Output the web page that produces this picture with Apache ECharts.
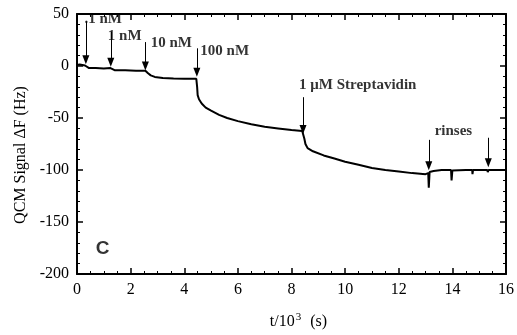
<!DOCTYPE html>
<html>
<head>
<meta charset="utf-8">
<script src="https://cdn.jsdelivr.net/npm/echarts@6/dist/echarts.min.js"></script>
<style>
  html, body { margin: 0; padding: 0; background: #fff; }
  #chart { width: 517px; height: 335px; }
</style>
</head>
<body>
<div id="chart"></div>
<script>
// QCM trace: [t / 10^3 s, dF Hz]
const trace = [
  [0, 1], [0.1, 1.5], [0.2, 1], [0.3, 0.5], [0.35, -1], [0.45, -2], [0.7, -2], [1.0, -2.3],
  [1.25, -2], [1.3, -3], [1.4, -4], [1.8, -4.2], [2.2, -4.5], [2.55, -4.5], [2.65, -7],
  [2.75, -9], [2.9, -10.5], [3.2, -11.5], [3.6, -12], [4.0, -12.3], [4.45, -12.3],
  [4.48, -20], [4.5, -28], [4.55, -32], [4.65, -36], [4.8, -40], [5.0, -43], [5.3, -47],
  [5.6, -50], [6.0, -53], [6.5, -56], [7.0, -58.5], [7.5, -60], [8.0, -61.5], [8.4, -62.5],
  [8.45, -64], [8.48, -70], [8.52, -75], [8.6, -79], [8.8, -82], [9.2, -86], [9.6, -89],
  [10.0, -92], [10.5, -95], [11.0, -98], [11.5, -100], [12.0, -101.5], [12.5, -103],
  [13.0, -104], [13.1, -103], [13.12, -117], [13.15, -102], [13.3, -101], [13.6, -100],
  [13.95, -100], [13.97, -110], [14.0, -100.5], [14.5, -100], [14.74, -100], [14.75, -104],
  [14.77, -100], [15.3, -100], [15.32, -102], [15.35, -100], [16, -100],
];

// injection arrows: [t, y from, y to]
const arrows = [
  [0.33, 43, 6],
  [1.26, 33, 3.5],
  [2.55, 23, 0],
  [4.47, 17, -6],
  [8.43, -30, -61],
  [13.12, -71, -96],
  [15.34, -69, -93],
];

// annotation texts: [t, y, text]
const notes = [
  [0.28, 45, '.1 nM'],
  [1.15, 29, '1 nM'],
  [2.75, 22, '10 nM'],
  [4.6, 14, '100 nM'],
  [8.28, -18, '1 μM Streptavidin'],
  [13.34, -63, 'rinses'],
];
const panelTag = [[0.7, -176, 'C']];

const serif = '"Liberation Serif", "DejaVu Serif", serif';

const chart = echarts.init(document.getElementById('chart'));

// fresh objects for every axis
function frameAxis(extra, split) {
  return Object.assign({
    type: 'value',
    axisLine: { show: true, onZero: false, lineStyle: { color: '#000', width: 2 } },
    axisTick: { show: true, inside: true, length: 6, lineStyle: { color: '#000', width: 1.5 } },
    minorTick: { show: true, splitNumber: split, length: 3, lineStyle: { color: '#000', width: 1 } },
    splitLine: { show: false },
  }, extra);
}

chart.setOption({
  animation: false,
  grid: { left: 77, right: 7, top: 14, bottom: 57 },
  xAxis: [frameAxis({
    min: 0, max: 16, interval: 2,
    axisLabel: { color: '#000', fontFamily: serif, fontSize: 16 },
    name: '{a|t/10}{s|3}{a|  (s)}',
    nameLocation: 'middle',
    nameGap: 38,
    nameTextStyle: {
      padding: [0, 0, 0, 14],
      rich: {
        a: { fontFamily: serif, fontSize: 16, color: '#000' },
        s: { fontFamily: serif, fontSize: 11, color: '#000', verticalAlign: 'top', padding: [0, 1, 9, 1] },
      },
    },
  }, 4), frameAxis({
    position: 'top', min: 0, max: 16, interval: 2,
    axisLabel: { show: false },
  }, 4)],
  yAxis: [frameAxis({
    min: -200, max: 50, interval: 50,
    axisLabel: { color: '#000', fontFamily: serif, fontSize: 16 },
    name: 'QCM Signal ΔF (Hz)',
    nameLocation: 'middle',
    nameGap: 41,
    nameTextStyle: { fontFamily: serif, fontSize: 16, color: '#000', padding: [0, 22, 0, 0] },
  }, 5), frameAxis({
    position: 'right', min: -200, max: 50, interval: 50,
    axisLabel: { show: false },
  }, 5)],
  series: [{
    type: 'line',
    data: trace,
    symbol: 'none',
    lineStyle: { color: '#000', width: 2 },
    z: 3,
    markLine: {
      silent: true,
      symbol: ['none', 'triangle'],
      symbolSize: [7, 9],
      symbolRotate: 180,
      label: { show: false },
      lineStyle: { color: '#000', width: 1, type: 'solid' },
      data: arrows.map(a => [
        { coord: [a[0], a[1]] },
        { coord: [a[0], a[2]] },
      ]),
    },
  }, {
    type: 'scatter',
    data: notes.map(n => ({ value: [n[0], n[1]], name: n[2] })),
    symbolSize: 0,
    silent: true,
    clip: false,
    label: {
      show: true, position: 'right', distance: 0,
      formatter: p => p.name,
      fontFamily: serif, fontWeight: 'bold', fontSize: 15, color: '#000',
    },
  }, {
    type: 'scatter',
    data: panelTag.map(n => ({ value: [n[0], n[1]], name: n[2] })),
    symbolSize: 0,
    silent: true,
    label: {
      show: true, position: 'right', distance: 0,
      formatter: p => p.name,
      fontFamily: '"Liberation Sans", Arial, sans-serif', fontWeight: 'bold', fontSize: 19, color: '#000',
    },
  }],
});
</script>
</body>
</html>
